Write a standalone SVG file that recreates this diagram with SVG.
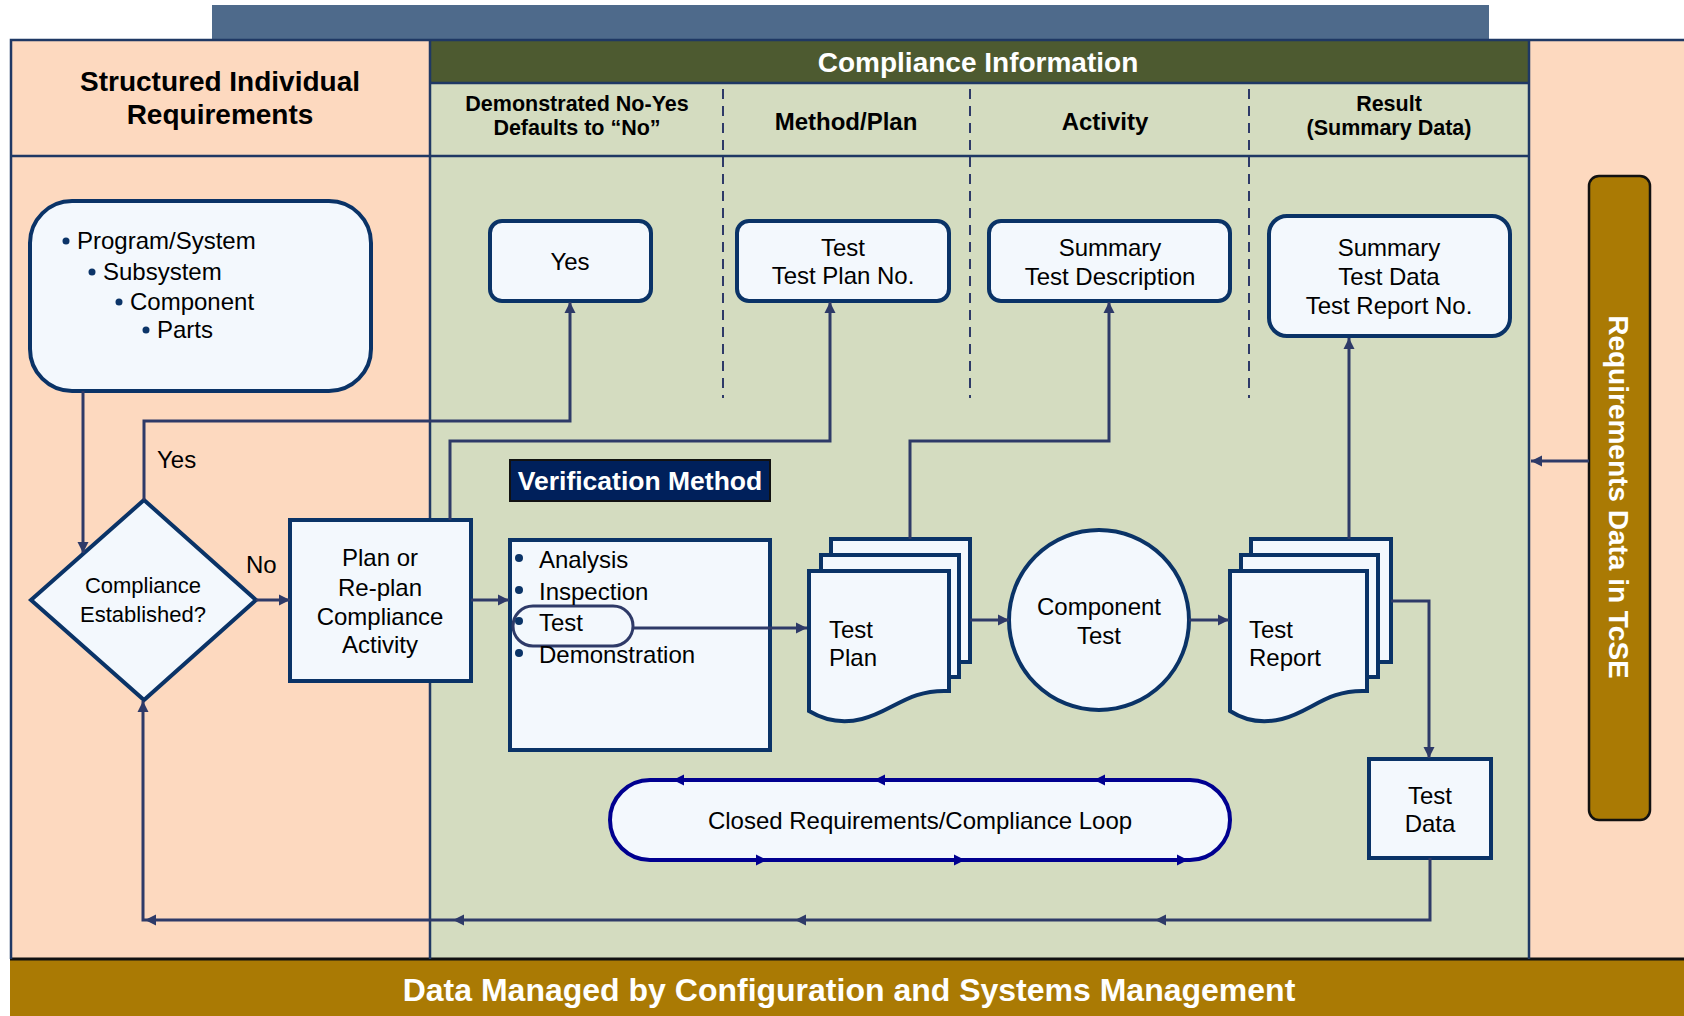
<svg xmlns="http://www.w3.org/2000/svg" xmlns:xlink="http://www.w3.org/1999/xlink" width="1684" height="1016" viewBox="0 0 1684 1016">
<style>
text{font-family:"Liberation Sans",Arial,sans-serif;fill:#000;}
.hdr{font-weight:bold;text-anchor:middle;}
.wt{fill:#fff;font-weight:bold;text-anchor:middle;}
.nt{font-size:24px;text-anchor:middle;}
.lt{font-size:24px;}
.node{fill:#F3F8FD;stroke:#0A3367;stroke-width:4;}
.conn{fill:none;stroke:#2E3A68;stroke-width:3;}
.grid{stroke:#1F3864;stroke-width:2.5;fill:none;}
.dash{stroke:#2E3A68;stroke-width:2;stroke-dasharray:10,7;fill:none;}
.bul{fill:#0B3468;}
</style>
<defs>
<marker id="arr" markerUnits="userSpaceOnUse" markerWidth="12" markerHeight="12" refX="11" refY="6" orient="auto"><path d="M0,0.5 L11,6 L0,11.5 Z" fill="#2E3A68"/></marker>
<path id="ah" d="M0,0 L-11,-5.5 L-11,5.5 Z" fill="#2E3A68"/>
<path id="ahb" d="M0,0 L-11,-5.5 L-11,5.5 Z" fill="#000090"/>
</defs>

<!-- background regions -->
<rect x="0" y="0" width="1684" height="1016" fill="#fff"/>
<rect x="212" y="5" width="1277" height="36" fill="#4E6A8B"/>
<rect x="11" y="40" width="419" height="919" fill="#FDD9BF"/>
<rect x="1529" y="40" width="155" height="919" fill="#FDD9BF"/>
<rect x="430" y="40" width="1099" height="919" fill="#D4DCC0"/>
<rect x="430" y="40" width="1099" height="43" fill="#4D5A30"/>
<rect x="10" y="959" width="1674" height="57" fill="#AA7A04"/>
<line x1="10" y1="959" x2="1684" y2="959" stroke="#111" stroke-width="3"/>

<!-- grid lines -->
<path class="grid" d="M11,959 V40 H1684"/>
<line class="grid" x1="430" y1="40" x2="430" y2="959"/>
<line class="grid" x1="1529" y1="40" x2="1529" y2="959"/>
<line class="grid" x1="430" y1="83" x2="1529" y2="83"/>
<line class="grid" x1="11" y1="156" x2="1529" y2="156"/>
<line class="dash" x1="723" y1="89" x2="723" y2="398"/>
<line class="dash" x1="970" y1="89" x2="970" y2="398"/>
<line class="dash" x1="1249" y1="89" x2="1249" y2="398"/>

<!-- headers -->
<g id="header-structured">
<text class="hdr" x="220" y="91" font-size="28">Structured Individual</text>
<text class="hdr" x="220" y="124" font-size="28">Requirements</text>
</g>
<g id="header-compliance">
<text class="wt" x="978" y="72" font-size="28">Compliance Information</text>
</g>
<g id="header-columns">
<text class="hdr" x="577" y="111" font-size="21.5">Demonstrated No-Yes</text>
<text class="hdr" x="577" y="135" font-size="21.5">Defaults to “No”</text>
<text class="hdr" x="846" y="130" font-size="24">Method/Plan</text>
<text class="hdr" x="1105" y="130" font-size="24">Activity</text>
<text class="hdr" x="1389" y="111" font-size="21.5">Result</text>
<text class="hdr" x="1389" y="135" font-size="21.5">(Summary Data)</text>
</g>

<!-- nodes -->
<g id="requirements-box">
<rect class="node" x="30" y="201" width="341" height="190" rx="42" stroke-width="3.5"/>
<circle class="bul" cx="66" cy="241" r="3.5"/><text x="77" y="249" font-size="24">Program/System</text>
<circle class="bul" cx="92" cy="272" r="3.5"/><text x="103" y="280" font-size="24">Subsystem</text>
<circle class="bul" cx="119" cy="302" r="3.5"/><text x="130" y="310" font-size="24">Component</text>
<circle class="bul" cx="146" cy="330" r="3.5"/><text x="157" y="338" font-size="24">Parts</text>
</g>

<g id="yes-box">
<rect class="node" x="490" y="221" width="161" height="80" rx="12"/>
<text class="nt" x="570" y="270">Yes</text>
</g>

<g id="test-plan-no-box">
<rect class="node" x="737" y="221" width="212" height="80" rx="12"/>
<text class="nt" x="843" y="256">Test</text>
<text class="nt" x="843" y="284">Test Plan No.</text>
</g>

<g id="summary-description-box">
<rect class="node" x="989" y="221" width="241" height="80" rx="12"/>
<text class="nt" x="1110" y="256">Summary</text>
<text class="nt" x="1110" y="285">Test Description</text>
</g>

<g id="result-box">
<rect class="node" x="1269" y="216" width="241" height="120" rx="18"/>
<text class="nt" x="1389" y="256">Summary</text>
<text class="nt" x="1389" y="285">Test Data</text>
<text class="nt" x="1389" y="314">Test Report No.</text>
</g>

<g id="tcse-bar">
<rect x="1589" y="176" width="61" height="644" rx="10" fill="#AA7A04" stroke="#111" stroke-width="2.5"/>
<text class="wt" font-size="28" transform="translate(1619,497) rotate(90)" y="10">Requirements Data in TcSE</text>
</g>

<g id="decision">
<polygon class="node" points="144,500 256,600 144,700 31,600"/>
<text x="143" y="593" font-size="22" text-anchor="middle">Compliance</text>
<text x="143" y="622" font-size="22" text-anchor="middle">Established?</text>
</g>

<g id="plan-box">
<rect class="node" x="290" y="520" width="181" height="161"/>
<text class="nt" x="380" y="566">Plan or</text>
<text class="nt" x="380" y="596">Re-plan</text>
<text class="nt" x="380" y="625">Compliance</text>
<text class="nt" x="380" y="653">Activity</text>
</g>

<g id="verification-label">
<rect x="510" y="460" width="260" height="41" fill="#00205B" stroke="#111" stroke-width="2"/>
<text class="wt" x="640" y="490" font-size="26.5">Verification Method</text>
</g>

<g id="verification-box">
<rect class="node" x="510" y="540" width="260" height="210"/>
<rect x="513" y="606" width="120" height="40" rx="20" fill="#F3F8FD" stroke="#2E3A68" stroke-width="3"/>
<circle class="bul" cx="519" cy="558" r="4"/><text class="lt" x="539" y="568">Analysis</text>
<circle class="bul" cx="519" cy="590" r="4"/><text class="lt" x="539" y="600">Inspection</text>
<circle class="bul" cx="519" cy="621" r="4"/><text class="lt" x="539" y="631">Test</text>
<circle class="bul" cx="519" cy="653" r="4"/><text class="lt" x="539" y="663">Demonstration</text>
</g>

<g id="test-plan-doc">
<rect class="node" x="831" y="539" width="139" height="123"/>
<rect class="node" x="821" y="555" width="138" height="122"/>
<path class="node" d="M809,571 H949 V691 C908,689 892,712 862,719 C842,724 824,720 809,711 Z"/>
<text class="lt" x="829" y="638">Test</text>
<text class="lt" x="829" y="666">Plan</text>
</g>

<g id="component-test">
<circle class="node" cx="1099" cy="620" r="90"/>
<text class="nt" x="1099" y="615">Component</text>
<text class="nt" x="1099" y="644">Test</text>
</g>

<g id="test-report-doc">
<rect class="node" x="1251" y="539" width="140" height="123"/>
<rect class="node" x="1241" y="555" width="137" height="122"/>
<path class="node" d="M1230,571 H1367 V691 C1327,689 1311,712 1282,719 C1262,724 1244,720 1230,711 Z"/>
<text class="lt" x="1249" y="638">Test</text>
<text class="lt" x="1249" y="666">Report</text>
</g>

<g id="test-data">
<rect class="node" x="1369" y="759" width="122" height="99"/>
<text class="nt" x="1430" y="804">Test</text>
<text class="nt" x="1430" y="832">Data</text>
</g>

<g id="closed-loop">
<path d="M650,780 H1190 A40,40 0 0 1 1190,860 H650 A40,40 0 0 1 650,780 Z" fill="#F3F8FD" stroke="#000090" stroke-width="4"/>
<use xlink:href="#ahb" transform="translate(673,780) rotate(180)"/>
<use xlink:href="#ahb" transform="translate(874,780) rotate(180)"/>
<use xlink:href="#ahb" transform="translate(1094,780) rotate(180)"/>
<use xlink:href="#ahb" transform="translate(767,860)"/>
<use xlink:href="#ahb" transform="translate(965,860)"/>
<use xlink:href="#ahb" transform="translate(1188,860)"/>
<text class="nt" x="920" y="829" font-size="23">Closed Requirements/Compliance Loop</text>
</g>

<!-- connectors -->
<g id="connectors">
<path class="conn" d="M83,391 V553" marker-end="url(#arr)"/>
<path class="conn" d="M144,500 V421 H570 V302" marker-end="url(#arr)"/>
<path class="conn" d="M450,520 V441 H830 V302" marker-end="url(#arr)"/>
<path class="conn" d="M910,539 V441 H1109 V302" marker-end="url(#arr)"/>
<path class="conn" d="M1349,539 V338" marker-end="url(#arr)"/>
<path class="conn" d="M256,600 H290" marker-end="url(#arr)"/>
<path class="conn" d="M471,600 H509" marker-end="url(#arr)"/>
<path class="conn" d="M633,628 H807" marker-end="url(#arr)"/>
<path class="conn" d="M970,620 H1009" marker-end="url(#arr)"/>
<path class="conn" d="M1189,620 H1229" marker-end="url(#arr)"/>
<path class="conn" d="M1391,601 H1429 V758" marker-end="url(#arr)"/>
<path class="conn" d="M1430,858 V920 H143 V701" marker-end="url(#arr)"/>
<use xlink:href="#ah" transform="translate(1155,920) rotate(180)"/>
<use xlink:href="#ah" transform="translate(795,920) rotate(180)"/>
<use xlink:href="#ah" transform="translate(453,920) rotate(180)"/>
<use xlink:href="#ah" transform="translate(145,920) rotate(180)"/>
<path class="conn" d="M1589,461 H1531" marker-end="url(#arr)"/>
<text class="lt" x="157" y="468">Yes</text>
<text class="lt" x="246" y="573">No</text>
</g>

<g id="footer">
<text class="wt" x="849" y="1001" font-size="32">Data Managed by Configuration and Systems Management</text>
</g>
</svg>
